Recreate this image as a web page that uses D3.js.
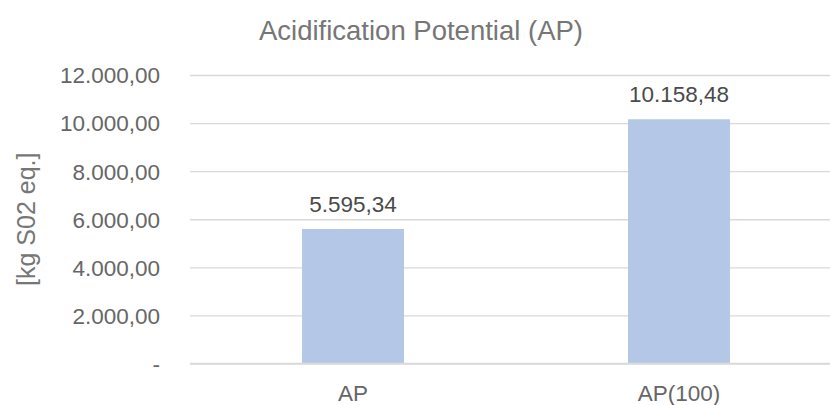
<!DOCTYPE html>
<html>
<head>
<meta charset="utf-8">
<script src="https://cdn.jsdelivr.net/npm/d3@7"></script>
<style>
  html, body { margin: 0; padding: 0; background: #fff; }
  svg { display: block; font-family: "Liberation Sans", Arial, Helvetica, sans-serif; }
</style>
</head>
<body>
<svg id="chart" width="830" height="405"></svg>
<script>
// Chart data
const categories = ["AP", "AP(100)"];
const values = [5595.34, 10158.48];
const valueLabels = ["5.595,34", "10.158,48"];
const tickValues = [0, 2000, 4000, 6000, 8000, 10000, 12000];
const tickLabels = ["-", "2.000,00", "4.000,00", "6.000,00", "8.000,00", "10.000,00", "12.000,00"];
const chartTitle = "Acidification Potential (AP)";
const yAxisTitle = "[kg S02 eq.]";

const svg = d3.select("#chart");
const plot = { left: 190, right: 842, top: 75, bottom: 363.5 };

const x = d3.scaleBand()
  .domain(categories)
  .range([plot.left, plot.right])
  .paddingInner(0.687)
  .paddingOuter(0.3435);

const y = d3.scaleLinear()
  .domain([0, 12000])
  .range([plot.bottom, plot.top]);

const axisColor = "#666666";
const titleColor = "#767676";

// Horizontal gridlines and value axis labels
const yAxis = d3.axisLeft(y)
  .tickValues(tickValues)
  .tickSize(-(plot.right - plot.left))
  .tickPadding(30)
  .tickFormat((d, i) => tickLabels[i]);

const gy = svg.append("g")
  .attr("transform", `translate(${plot.left},0)`)
  .call(yAxis);
gy.select(".domain").remove();
gy.selectAll(".tick line").attr("stroke", "#d9d9d9").attr("stroke-width", 1.3);
gy.selectAll(".tick text")
  .attr("fill", axisColor)
  .style("font-size", "22.5px")
  .attr("dy", "0.35em");

// Bars
svg.append("g").selectAll("rect")
  .data(values)
  .join("rect")
  .attr("x", (d, i) => x(categories[i]))
  .attr("y", d => y(d))
  .attr("width", x.bandwidth())
  .attr("height", d => y(0) - y(d))
  .attr("fill", "#b4c7e7");

// Baseline
svg.append("line")
  .attr("x1", plot.left).attr("x2", plot.right)
  .attr("y1", y(0)).attr("y2", y(0))
  .attr("stroke", "#d9d9d9").attr("stroke-width", 1.3);

// Data labels
svg.append("g").selectAll("text")
  .data(values)
  .join("text")
  .attr("x", (d, i) => x(categories[i]) + x.bandwidth() / 2)
  .attr("y", d => y(d) - 17)
  .attr("text-anchor", "middle")
  .attr("fill", "#4a4a4a")
  .style("font-size", "22.5px")
  .text((d, i) => valueLabels[i]);

// Category axis
const xAxis = d3.axisBottom(x).tickSize(0).tickPadding(22);
const gx = svg.append("g")
  .attr("transform", `translate(0,${plot.bottom})`)
  .call(xAxis);
gx.select(".domain").remove();
gx.selectAll(".tick text")
  .attr("fill", axisColor)
  .style("font-size", "22.5px");

// Title
svg.append("text")
  .attr("x", 421)
  .attr("y", 40)
  .attr("text-anchor", "middle")
  .attr("fill", titleColor)
  .style("font-size", "27.5px")
  .text(chartTitle);

// Value axis title
svg.append("text")
  .attr("transform", `translate(35,${(plot.top + plot.bottom) / 2}) rotate(-90)`)
  .attr("text-anchor", "middle")
  .attr("fill", titleColor)
  .style("font-size", "25px")
  .text(yAxisTitle);
</script>
</body>
</html>
